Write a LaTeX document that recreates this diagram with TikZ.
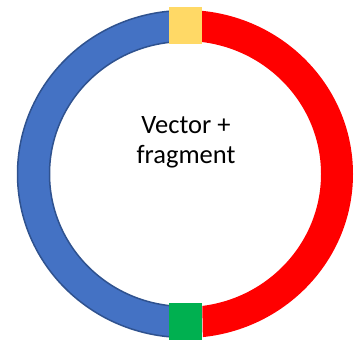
\documentclass[tikz,border=0pt]{standalone}
\usepackage{fontspec}
\setmainfont{Carlito}
\definecolor{ringblue}{HTML}{4472C4}
\definecolor{ringblueedge}{HTML}{2F528F}
\definecolor{ringred}{HTML}{FF0000}
\definecolor{markyellow}{HTML}{FFD966}
\definecolor{markgreen}{HTML}{00B050}
\begin{document}
\begin{tikzpicture}[x=1pt,y=-1pt,
  marker/.style={draw=none,minimum width=33pt,minimum height=37pt,inner sep=0pt,outer sep=0pt}]
\useasboundingbox (0,0) rectangle (364,347);
\coordinate (c) at (185,174);
% blue half ring (left)
\begin{scope}
\clip (0,0) rectangle (201,347);
\fill[ringblue,draw=ringblueedge,line width=1.5pt,even odd rule]
  (c) ellipse [x radius=167.5pt,y radius=163.5pt]
  (c) ellipse [x radius=135.5pt,y radius=132.5pt];
\end{scope}
% red half ring (right)
\begin{scope}
\clip (200,0) -- (200,174) -- (203,347) -- (364,347) -- (364,0) -- cycle;
\fill[ringred,even odd rule]
  (c) ellipse [x radius=168pt,y radius=164pt]
  (c) ellipse [x radius=136pt,y radius=133pt];
\end{scope}
% markers
\node[marker,fill=markyellow] (yel) at (185.5,25.5) {};
\node[marker,fill=markgreen] (grn) at (185.5,321.5) {};
% label
\node[align=center,font=\fontsize{26.5}{30}\selectfont,inner sep=0pt] (lbl) at (186,142) {Vector +\\fragment};
\end{tikzpicture}
\end{document}
